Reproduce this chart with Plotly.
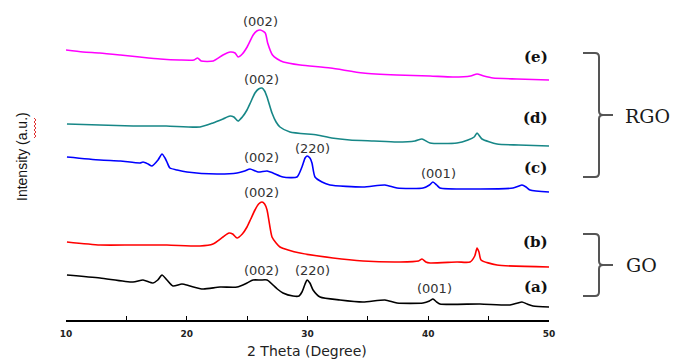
import plotly.graph_objects as go

# ---- data (2θ in degrees, intensity in arbitrary units, offset stacked) ----
x_e = [10.0, 11.4, 12.8, 14.5, 16.1, 17.8, 19.4, 20.6, 20.9, 21.2, 22.2, 23.0, 23.6, 24.0, 24.25,
       24.6, 25.0, 25.5, 25.8, 26.1, 26.5, 26.7, 27.1, 27.5, 28.0, 29.4, 31.9, 34.6, 37.4,
       40.15, 42.05, 43.5, 44.04, 44.6, 45.36, 47.35, 50.0]
y_e = [270, 268, 267, 265, 263, 261, 260, 260, 262, 259, 259, 265, 268, 267, 263,
       266, 273, 285, 289, 290, 287, 277, 265, 261, 258, 255, 252, 247, 245,
       244, 243, 244, 246, 244, 242, 241, 240]

x_d = [10.08, 12.8, 15.55, 18.3, 21.1, 22.17, 23.0, 23.58, 23.9, 24.25, 24.6, 24.99, 25.3, 25.65,
       25.95, 26.23, 26.45, 26.65, 27.06, 27.4, 27.72, 28.55, 30.79, 32.0, 33.5, 35.5, 37.41,
       38.9, 39.48, 40.15, 42.38, 43.29, 43.8, 44.04, 44.45, 45.69, 47.5, 50.0]
y_d = [196, 195, 194, 194, 193, 197, 201, 204, 203, 199, 203, 210, 218, 227,
       231, 232, 229, 223, 207, 198, 193, 188, 185, 182, 180, 179, 178,
       179, 181, 177, 177, 180, 183, 187, 181, 176, 175, 174]

x_c = [10.08, 12.82, 14.5, 16.13, 16.38, 16.8, 17.12, 17.62, 17.95, 18.2, 18.36, 18.61, 19.2,
       20.02, 22.5, 24.17, 24.8, 25.24, 25.9, 26.65, 27.14, 27.97, 29.13, 29.54, 29.8, 29.96,
       30.2, 30.37, 30.62, 31.2, 31.86, 34.6, 36.42, 37.41, 39.57, 40.1, 40.39, 40.7, 40.97,
       44.29, 47.02, 47.5, 47.76, 48.1, 48.43, 50.0]
y_c = [163, 160, 159, 157, 158, 156, 154, 160, 166, 162, 158, 152, 150,
       148, 146, 147, 149, 151, 148, 149, 147, 143, 143, 153, 162, 164,
       162, 157, 143, 138, 135, 133, 135, 132, 132, 135, 138, 135, 132,
       131, 132, 134, 135, 133, 130, 128]

x_b = [10.08, 12.82, 15.55, 18.36, 21.1, 22.17, 23.0, 23.5, 23.8, 24.17, 24.6, 24.99, 25.3, 25.65,
       25.95, 26.23, 26.45, 26.65, 27.06, 27.4, 27.72, 28.4, 29.38, 32.11, 34.6, 37.66,
       39.2, 39.48, 39.8, 40.15, 42.38, 43.46, 43.85, 44.04, 44.2, 44.37, 45.69, 50.0]
y_b = [78, 75, 75, 75, 74, 76, 83, 87, 86, 82, 86, 93, 101, 110,
       116, 118, 116, 110, 83, 77, 73, 70, 67, 62, 59, 58,
       59, 61, 58, 57, 58, 58, 64, 72, 68, 60, 55, 53]

x_a = [10.08, 12.82, 15.55, 16.38, 17.2, 17.6, 17.95, 18.36, 18.86, 19.6, 20.27, 21.35, 22.75,
       24.17, 24.99, 25.49, 26.1, 26.65, 27.14, 27.5, 27.97, 28.8, 29.3, 29.54, 29.8, 29.96,
       30.2, 30.46, 31.04, 32.69, 34.6, 36.42, 37.41, 39.57, 40.1, 40.39, 40.7, 40.97,
       44.29, 46.77, 47.4, 47.76, 48.2, 48.68, 50.0]
y_a = [45, 42, 38, 40, 37, 40, 45, 40, 34, 36, 34, 31, 33,
       33, 37, 40, 40, 40, 35, 31, 27, 24, 24, 28, 36, 40,
       37, 30, 23, 20, 18, 20, 17, 17, 19, 21, 18, 16,
       16, 15, 17, 18, 16, 14, 13]

series_names = ["(a)", "(b)", "(c)", "(d)", "(e)"]
series_colors = ["#000000", "#ff0000", "#0000ff", "#178787", "#ff00ff"]

# peak labels: text, 2θ, intensity
peak_text = ["(002)", "(002)", "(002)", "(220)", "(001)", "(002)", "(002)", "(220)", "(001)"]
peak_x = [26.1, 26.2, 26.2, 30.4, 40.85, 26.15, 26.15, 30.4, 40.55]
peak_y = [299, 241, 163, 172, 147, 128, 50, 50, 32]

# sample labels at right end: intensity positions
label_x = [48.9, 48.9, 48.9, 48.9, 48.9]
label_y = [33, 78, 152, 202, 263]

xs = [x_a, x_b, x_c, x_d, x_e]
ys = [y_a, y_b, y_c, y_d, y_e]

fig = go.Figure()
for xv, yv, nm, col in zip(xs, ys, series_names, series_colors):
    fig.add_trace(go.Scatter(x=xv, y=yv, mode="lines", name=nm,
                             line=dict(color=col, width=1.6, shape="spline", smoothing=0.6),
                             showlegend=False))

for t, px, py in zip(peak_text, peak_x, peak_y):
    fig.add_annotation(x=px, y=py, text=t, showarrow=False, xanchor="center", yanchor="middle",
                       font=dict(family="DejaVu Sans", size=13, color="#333333"))

for t, px, py in zip(series_names, label_x, label_y):
    fig.add_annotation(x=px, y=py, text="<b>" + t + "</b>", showarrow=False,
                       xanchor="center", yanchor="middle",
                       font=dict(family="DejaVu Serif", size=15, color="#111111"))

# layout geometry (pixels)
W, H = 675, 360
PL, PR, PT, PB = 66, 549, 10, 320


def xp(px):
    return (px - PL) / (PR - PL)


def yp(py):
    return (PB - py) / (PB - PT)


def bracket(top, bot, mid, x0=583, xv=599, xt=613, r=4):
    pts = [
        f"M {xp(x0)},{yp(top)}",
        f"L {xp(xv - r)},{yp(top)}",
        f"Q {xp(xv)},{yp(top)} {xp(xv)},{yp(top + r)}",
        f"L {xp(xv)},{yp(mid - r)}",
        f"Q {xp(xv)},{yp(mid)} {xp(xv + r)},{yp(mid)}",
        f"L {xp(xt)},{yp(mid)}",
        f"M {xp(xv + r)},{yp(mid)}",
        f"Q {xp(xv)},{yp(mid)} {xp(xv)},{yp(mid + r)}",
        f"L {xp(xv)},{yp(bot - r)}",
        f"Q {xp(xv)},{yp(bot)} {xp(xv - r)},{yp(bot)}",
        f"L {xp(x0)},{yp(bot)}",
    ]
    return " ".join(pts)


fig.add_shape(type="path", xref="paper", yref="paper", path=bracket(53, 177, 115),
              line=dict(color="#555555", width=2))
fig.add_shape(type="path", xref="paper", yref="paper", path=bracket(234, 296, 265),
              line=dict(color="#555555", width=2))

fig.add_annotation(xref="paper", yref="paper", x=xp(647), y=yp(116), text="RGO",
                   showarrow=False, xanchor="center", yanchor="middle",
                   font=dict(family="DejaVu Serif", size=19, color="#1a1a1a"))
fig.add_annotation(xref="paper", yref="paper", x=xp(641), y=yp(265), text="GO",
                   showarrow=False, xanchor="center", yanchor="middle",
                   font=dict(family="DejaVu Serif", size=19, color="#1a1a1a"))

# axis titles
fig.add_annotation(xref="paper", yref="paper", x=xp(22), y=yp(157), text="Intensity (a.u.)",
                   textangle=-90, showarrow=False, xanchor="center", yanchor="middle",
                   font=dict(family="Liberation Sans", size=14, color="#111111"))
fig.add_annotation(xref="paper", yref="paper", x=xp(307), y=yp(351), text="2 Theta (Degree)",
                   showarrow=False, xanchor="center", yanchor="middle",
                   font=dict(family="DejaVu Sans", size=14, color="#222222"))
# spell-check squiggle under "a.u."
zz = []
yy = 118
k = 0
while yy <= 138:
    zz.append(f"{'M' if k == 0 else 'L'} {xp(34 + (k % 2) * 2)},{yp(yy)}")
    yy += 2
    k += 1
fig.add_shape(type="path", xref="paper", yref="paper", path=" ".join(zz),
              line=dict(color="#e03030", width=1))

fig.update_layout(
    width=W, height=H,
    margin=dict(l=PL, r=W - PR, t=PT, b=H - PB, autoexpand=False),
    paper_bgcolor="white", plot_bgcolor="white",
    xaxis=dict(range=[10, 50], dtick=10, tick0=10, showgrid=False, zeroline=False,
               automargin=False,
               showline=True, linecolor="black", linewidth=1.5,
               ticks="inside", ticklen=4, tickwidth=1.2, tickcolor="black",
               minor=dict(dtick=5, ticks="inside", ticklen=4, tickwidth=1.2, tickcolor="black"),
               ticklabelstandoff=4,
               tickfont=dict(family="DejaVu Sans", size=9, color="#222222", weight="bold")),
    yaxis=dict(range=[0, 310], visible=False, showgrid=False, zeroline=False, automargin=False),
)

fig.write_html("out.html")
